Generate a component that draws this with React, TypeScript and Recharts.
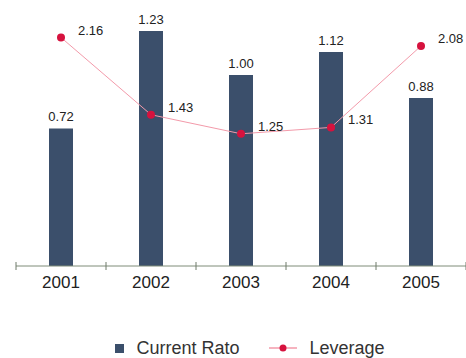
import * as React from "react"
import { ComposedChart, Bar, Line, XAxis, YAxis, Legend, LabelList } from "recharts"

const years = ["2001", "2002", "2003", "2004", "2005"]
const currentRatio = [0.72, 1.23, 1.0, 1.12, 0.88]
const leverage = [2.16, 1.43, 1.25, 1.31, 2.08]

const data = years.map((year, i) => ({
    year,
    current: currentRatio[i],
    leverage: leverage[i],
}))

const FONT = '"Liberation Sans", Arial, Helvetica, sans-serif'
const BAR_COLOR = "#3b4f6b"
const LINE_COLOR = "#f39aaa"
const DOT_COLOR = "#d6123e"
const HALF_BAND = 45

const YearTick = (props: any) => {
    const { x, y, payload, index, visibleTicksCount } = props
    const axisY = y - 8
    return (
        <g>
            <line x1={x - HALF_BAND} x2={x - HALF_BAND} y1={axisY - 4} y2={axisY + 4} stroke="#6f7a6a" />
            {index === visibleTicksCount - 1 && (
                <line x1={x + HALF_BAND} x2={x + HALF_BAND} y1={axisY - 4} y2={axisY + 4} stroke="#6f7a6a" />
            )}
            <text x={x} y={axisY + 22} textAnchor="middle" fontSize={17} fill="#222" fontFamily={FONT}>
                {payload.value}
            </text>
        </g>
    )
}

const LeverageLabel = (props: any) => {
    const { x, y, value } = props
    return (
        <text x={x + 17} y={y - 3} fontSize={13} fill="#222" fontFamily={FONT}>
            {Number(value).toFixed(2)}
        </text>
    )
}

const LegendContent = () => (
    <div
        style={{
            display: "flex",
            justifyContent: "center",
            alignItems: "center",
            fontFamily: FONT,
            fontSize: 18,
            lineHeight: "20px",
            color: "#333",
            paddingLeft: 34,
        }}
    >
        <span style={{ display: "inline-block", width: 9, height: 9, background: BAR_COLOR, marginRight: 12 }} />
        <span>Current Rato</span>
        <svg width={28} height={10} style={{ marginLeft: 30, marginRight: 12 }}>
            <line x1={0} x2={28} y1={5} y2={5} stroke={LINE_COLOR} strokeWidth={1.5} />
            <circle cx={14} cy={5} r={3.5} fill={DOT_COLOR} />
        </svg>
        <span>Leverage</span>
    </div>
)

export default function App() {
    return (
        <div style={{ position: "absolute", left: 0, top: 0, background: "#fff" }}>
            <ComposedChart width={466} height={358} data={data} margin={{ top: 10, right: 0, left: 16, bottom: 0 }}>
                <XAxis
                    dataKey="year"
                    height={92}
                    axisLine={{ stroke: "#7f8c78" }}
                    tickLine={false}
                    tick={<YearTick />}
                    interval={0}
                />
                <YAxis yAxisId="bar" hide domain={[0, 1.34]} />
                <YAxis yAxisId="line" hide domain={[0, 2.42]} />
                <Legend
                    verticalAlign="middle"
                    content={<LegendContent />}
                    wrapperStyle={{ position: "absolute", top: 338, left: 0, width: 466 }}
                />
                <Bar yAxisId="bar" dataKey="current" name="Current Rato" fill={BAR_COLOR} barSize={24} isAnimationActive={false}>
                    <LabelList
                        dataKey="current"
                        position="top"
                        offset={7}
                        fontSize={13}
                        fill="#222"
                        fontFamily={FONT}
                        formatter={(v: any) => Number(v).toFixed(2)}
                    />
                </Bar>
                <Line
                    yAxisId="line"
                    dataKey="leverage"
                    name="Leverage"
                    stroke={LINE_COLOR}
                    strokeWidth={1}
                    dot={{ r: 4, fill: DOT_COLOR, stroke: "none" }}
                    isAnimationActive={false}
                >
                    <LabelList dataKey="leverage" content={<LeverageLabel />} />
                </Line>
            </ComposedChart>
        </div>
    )
}
